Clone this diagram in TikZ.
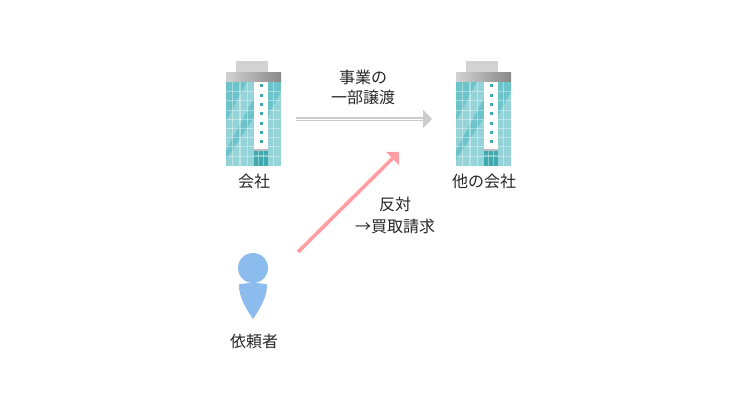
\documentclass[tikz,border=0pt]{standalone}
\usepackage{fontspec}
\setmainfont{Noto Sans CJK JP}
\usetikzlibrary{arrows.meta}
\definecolor{towerteal}{HTML}{6CC4CA}
\definecolor{towerdark}{HTML}{3FA9B0}
\definecolor{towerroof}{HTML}{BDBDBD}
\definecolor{towertop}{HTML}{D2D2D2}
\definecolor{personblue}{HTML}{8CBBEE}
\definecolor{rightgray}{HTML}{CCCCCC}
\definecolor{claimpink}{HTML}{FF9EA2}
\tikzset{
    caption/.style={font=\fontsize{12pt}{14pt}\selectfont, text=black!85, inner sep=0pt, align=center},
    transfer/.style={rightgray, line width=1.45pt, double=white, double distance=0.6pt, -{Triangle[length=6.75pt,width=13.5pt]}},
    claim/.style={claimpink, line width=2.7pt, -{Triangle[length=6.9pt,width=13.8pt]}},
    shine/.style={fill=white, fill opacity=0.28},
    gridline/.style={white, opacity=0.38, line width=0.8pt}
}
\begin{document}
\begin{tikzpicture}[x=0.75pt,y=-0.75pt]
    \useasboundingbox (0,0) rectangle (740,416);

    % Buildings
    \foreach \bx in {0,230} {
        \begin{scope}[shift={(\bx,0)}]
            \fill[towertop] (235.5,61.5) rectangle (268,72.5);
            \shade[left color=towertop, right color=black!35!towertop] (226,72.5) rectangle (281,82);
            \fill[towerteal] (226,82) rectangle (281,166);
            % Reflections
            \fill[shine] (247,82) -- (254,82) -- (254,98) -- (226,150) -- (226,122) -- cycle;
            \fill[shine] (254,118) -- (254,166) -- (226,166) -- (226,160) -- cycle;
            \fill[shine] (268,116) -- (281,92) -- (281,166) -- (268,166) -- cycle;
            % Window grid
            \foreach \gx in {232.7,240,247.3,273.5}
                \draw[gridline] (\gx,82) -- (\gx,166);
            \foreach \gy in {91.7,100.9,110.1,119.3,128.5,137.7,146.9,156.1}
                \draw[gridline] (226,\gy) -- (281,\gy);
            % Centre strip
            \fill[white] (254,82) rectangle (268,149);
            \foreach \dy in {86,95.3,104.7,114,123.3,132.7,142}
                \fill[towerdark] (259.5,\dy-1.5) rectangle (262.5,\dy+1.5);
            % Door
            \fill[towerroof] (254,149) rectangle (268,151);
            \fill[towerdark] (254,151) rectangle (268,166);
            \draw[gridline] (258.7,151) -- (258.7,166);
            \draw[gridline] (263.3,151) -- (263.3,166);
            \draw[gridline] (254,156) -- (268,156);
        \end{scope}
    }
    \node[caption] (company) at (254,181) {会社};
    \node[caption] (other) at (484,181) {他の会社};

    % Transfer
    \coordinate (transferstart) at (296,119);
    \coordinate (transferend) at (432,119);
    \draw[transfer] (transferstart) -- (transferend);
    \node[caption] (transfertop) at (363,77) {事業の};
    \node[caption] (transferlow) at (363,97) {一部譲渡};

    % Client
    \fill[personblue] (253,268) circle (15);
    \fill[personblue] (239,284.5) .. controls (247,282.5) and (259,282.5) .. (267,284.5)
        .. controls (267.5,296) and (260,309) .. (253,319)
        .. controls (246,309) and (238.5,296) .. (239,284.5) -- cycle;
    \node[caption] (client) at (254,341) {依頼者};

    % Objection
    \coordinate (claimstart) at (298,252);
    \coordinate (claimend) at (399,152);
    \draw[claim] (claimstart) -- (claimend);
    \node[caption] (claimtop) at (395,204) {反対};
    \node[caption] (claimlow) at (395,226) {→買取請求};
\end{tikzpicture}
\end{document}
